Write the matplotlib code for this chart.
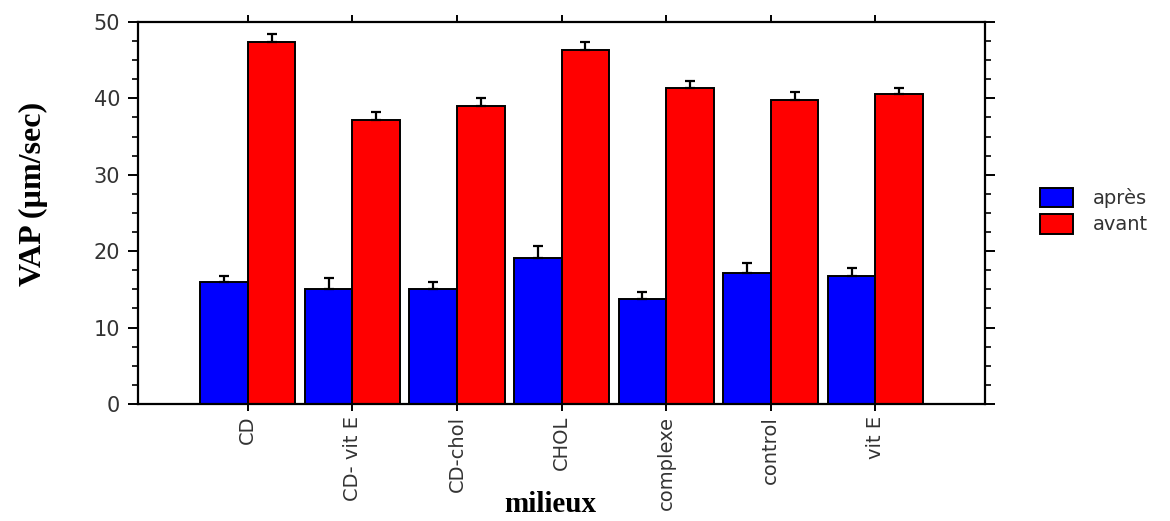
import numpy as np
import matplotlib.pyplot as plt
from matplotlib.patches import Patch
from matplotlib.ticker import MultipleLocator

# --- données ---
milieux = ["CD", "CD- vit E", "CD-chol", "CHOL", "complexe", "control", "vit E"]
apres = [15.9, 15.1, 15.1, 19.1, 13.8, 17.2, 16.7]
apres_err = [0.85, 1.35, 0.8, 1.6, 0.8, 1.3, 1.1]
avant = [47.4, 37.1, 39.0, 46.3, 41.4, 39.8, 40.5]
avant_err = [1.0, 1.1, 1.0, 1.1, 0.8, 1.0, 0.8]

TICK_COLOR = "#333333"
W = 0.455

fig = plt.figure(figsize=(11.7, 5.21), dpi=100)
ax = fig.add_axes([0.118, 0.2246, 0.724, 0.7334])

x = np.arange(len(milieux))
err_kw = dict(ecolor="black", elinewidth=1.6, capsize=3.5, capthick=1.6)
ax.bar(x - W / 2, apres, W, color="#0000ff", edgecolor="black", linewidth=1.4,
       yerr=[np.zeros(len(apres)), apres_err], error_kw=err_kw, zorder=2)
ax.bar(x + W / 2, avant, W, color="#ff0000", edgecolor="black", linewidth=1.4,
       yerr=[np.zeros(len(avant)), avant_err], error_kw=err_kw, zorder=2)

ax.set_xlim(-1.05, 7.05)
ax.set_ylim(0, 50)
ax.set_xticks(x)
ax.set_xticklabels(milieux, rotation=90, fontsize=14, color=TICK_COLOR,
                   fontfamily="DejaVu Sans")
ax.yaxis.set_major_locator(MultipleLocator(10))
ax.yaxis.set_minor_locator(MultipleLocator(2.5))
for lab in ax.get_yticklabels():
    lab.set_fontsize(15)
    lab.set_color(TICK_COLOR)
    lab.set_fontfamily("DejaVu Sans")

ax.tick_params(axis="both", which="major", direction="out", length=7, width=1.4)
ax.tick_params(axis="y", which="major", pad=6)
ax.tick_params(axis="y", which="minor", direction="out", length=4, width=1.2)
ax.tick_params(axis="y", which="both", right=True)
ax.tick_params(axis="x", which="major", top=True, length=5)

for s in ax.spines.values():
    s.set_linewidth(1.6)

ax.set_ylabel("VAP (µm/sec)", fontsize=23, fontweight="bold",
              fontfamily="Liberation Serif")
ax.yaxis.set_label_coords(-0.106, 0.55)
fig.text(550 / 1170, 1 - 505 / 521, "milieux", fontsize=21, fontweight="bold",
         fontfamily="Liberation Serif", ha="center", va="center")

handles = [Patch(facecolor="#0000ff", edgecolor="black", linewidth=1.4, label="après"),
           Patch(facecolor="#ff0000", edgecolor="black", linewidth=1.4, label="avant")]
fig.legend(handles=handles, loc="center left", bbox_to_anchor=(0.874, 0.595),
           frameon=False, prop={"family": "DejaVu Sans", "size": 14},
           handlelength=1.7, handleheight=1.2, handletextpad=1.0, labelspacing=0.3,
           labelcolor=TICK_COLOR)

fig.savefig("out.png", dpi=100)
